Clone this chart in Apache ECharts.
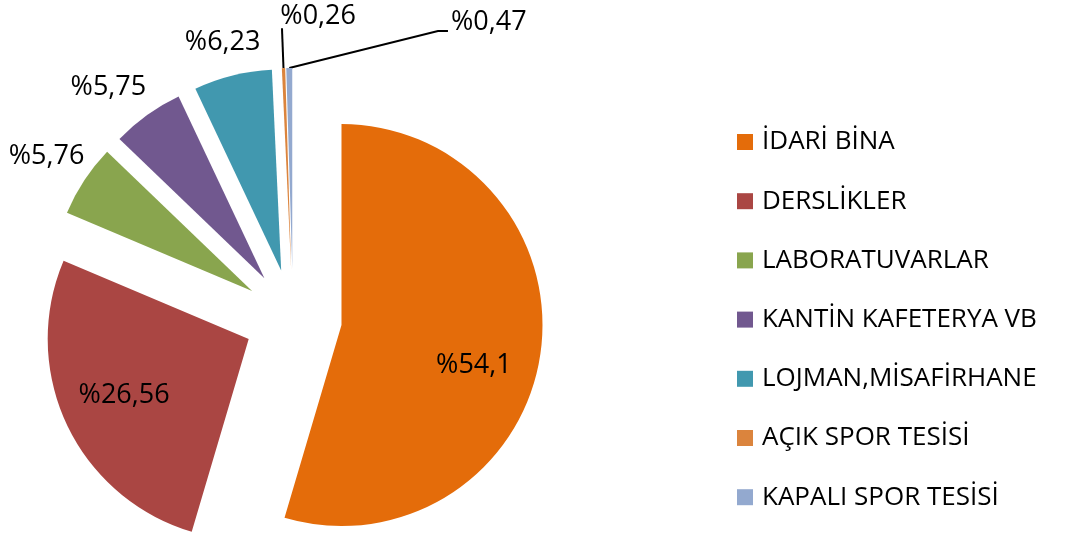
<!DOCTYPE html>
<html>
<head>
<meta charset="utf-8">
<script src="https://cdn.jsdelivr.net/npm/echarts@6/dist/echarts.min.js"></script>
<style>
  html, body { margin: 0; padding: 0; background: #ffffff; }
  #chart { width: 1065px; height: 537px; }
</style>
</head>
<body>
<div id="chart"></div>
<script>
// ---- data ----
const categories = [
  'İDARİ BİNA',
  'DERSLİKLER',
  'LABORATUVARLAR',
  'KANTİN KAFETERYA VB',
  'LOJMAN,MİSAFİRHANE',
  'AÇIK SPOR TESİSİ',
  'KAPALI SPOR TESİSİ'
];
const values = [54.1, 26.56, 5.76, 5.75, 6.23, 0.26, 0.47];
const labelTexts = ['%54,1', '%26,56', '%5,76', '%5,75', '%6,23', '%0,26', '%0,47'];

// ---- styles ----
const colors = ['#E46C0A', '#AA4643', '#89A54E', '#71588F', '#4198AF', '#DB843D', '#93A9CF'];
const insideLabel = [true, true, false, false, false, false, false];
const showLeader = [false, false, false, false, false, true, true];
const leaderLen = [0, 0, 43, 34, 34, 40, 46];
const labelDist = [0, 0, -36, -19, -36, -74, -238];
const labelPad = [[0, 0, 0, 60], [0, 62, 0, 0], 0, 0, 0, 0, 0];
const labelVShift = [25, 12, 0, 0, 0, -12, 0];

const FONT = '"Open Sans", "Noto Sans", sans-serif';

const chart = echarts.init(document.getElementById('chart'), null, { renderer: 'canvas' });

const pieData = values.map((v, i) => {
  const vs = labelVShift[i];
  const txt = vs > 0 ? '\n' + labelTexts[i] : (vs < 0 ? labelTexts[i] + '\n' : labelTexts[i]);
  return {
    name: categories[i],
    value: v,
    selected: true,
    itemStyle: { color: colors[i] },
    label: {
      position: insideLabel[i] ? 'inside' : 'outside',
      formatter: txt,
      lineHeight: vs !== 0 ? Math.abs(vs) * 2 : 30,
      distanceToLabelLine: labelDist[i],
      padding: labelPad[i]
    },
    labelLine: {
      show: showLeader[i],
      length: leaderLen[i],
      length2: 0,
      lineStyle: { color: '#000000', width: 2 }
    }
  };
});

chart.setOption({
  animation: false,
  backgroundColor: '#ffffff',
  legend: {
    orient: 'vertical',
    left: 737,
    top: 129,
    padding: 0,
    itemWidth: 16,
    itemHeight: 16,
    itemGap: 33.2,
    icon: 'rect',
    selectedMode: false,
    data: categories,
    textStyle: {
      fontFamily: FONT,
      fontSize: 26,
      color: '#000000',
      lineHeight: 26,
      padding: [0, 0, 0, 4]
    }
  },
  series: [{
    type: 'pie',
    center: [293, 318],
    radius: [0, 201],
    startAngle: 90,
    clockwise: true,
    selectedMode: 'multiple',
    selectedOffset: 49,
    avoidLabelOverlap: false,
    label: {
      show: true,
      fontFamily: FONT,
      fontSize: 27,
      color: '#000000'
    },
    labelLayout: function (params) {
      // the last leader line runs to the label's left side, as in the reference
      if (params.dataIndex === values.length - 1 && params.labelLinePoints) {
        const r = params.labelRect;
        const p0 = params.labelLinePoints[0];
        const ly = r.y + r.height / 2 + 9;
        return { labelLinePoints: [[p0[0], p0[1]], [r.x - 13, ly], [r.x - 3, ly]] };
      }
      return {};
    },
    emphasis: { disabled: true },
    data: pieData
  }]
});
</script>
</body>
</html>
